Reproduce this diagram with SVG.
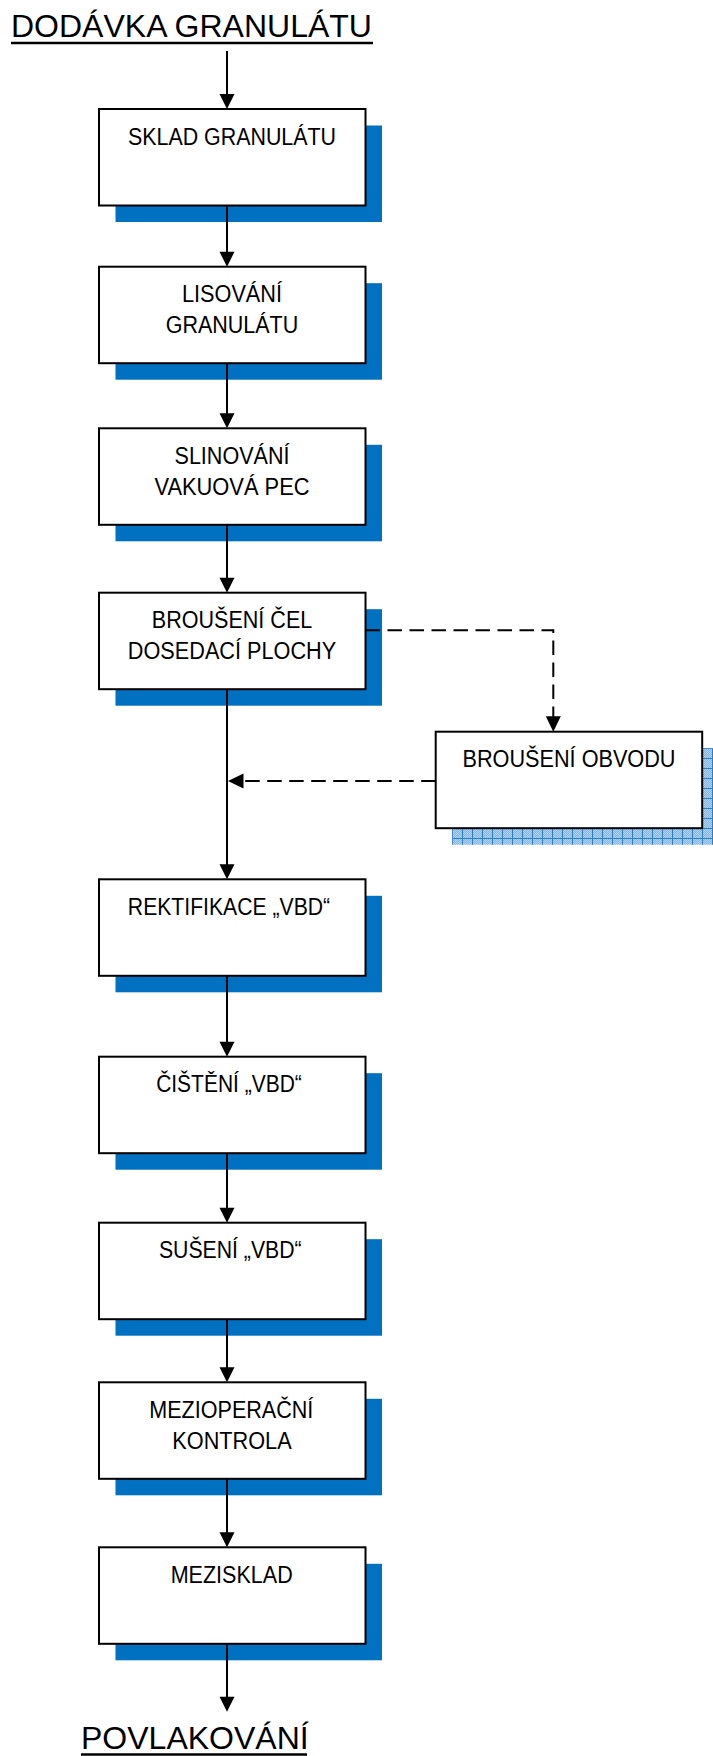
<svg xmlns="http://www.w3.org/2000/svg" width="713" height="1756" viewBox="0 0 713 1756">
  <style>
    .box { fill: #ffffff; stroke: #000000; stroke-width: 2; }
    .shadow { fill: #0070C0; }
    .lbl { font-family: "Liberation Sans", Arial, sans-serif; font-size: 23.5px; fill: #000000; text-anchor: middle; }
    .title { font-family: "Liberation Sans", Arial, sans-serif; font-size: 32px; fill: #000000; }
    .uline { stroke: #000000; stroke-width: 2.4; }
    .flow { fill: none; stroke: #000000; stroke-width: 2; }
    .dash { fill: none; stroke: #000000; stroke-width: 2; stroke-dasharray: 14.5 7.5; }
    .head { fill: #000000; }
  </style>
  <defs>
    <!-- fine dither for the textured shadow -->
    <pattern id="dither" x="0" y="0" width="2" height="2" patternUnits="userSpaceOnUse">
      <rect x="0" y="0" width="2" height="2" fill="#86b6e2"/>
      <rect x="0" y="0" width="1" height="1" fill="#b0d0ef"/>
      <rect x="1" y="1" width="1" height="1" fill="#b0d0ef"/>
    </pattern>
    <!-- grid lines over the dither -->
    <pattern id="grid" x="452" y="748" width="10" height="10" patternUnits="userSpaceOnUse">
      <rect x="0" y="0" width="1" height="10" fill="#2d7cc6"/>
      <rect x="0" y="0" width="10" height="1" fill="#2d7cc6"/>
    </pattern>
  </defs>

  <!-- start and end labels -->
  <g id="start">
    <text class="title" x="11" y="37">DODÁVKA GRANULÁTU</text>
    <line class="uline" x1="11" y1="43" x2="373" y2="43"/>
  </g>
  <g id="end">
    <text class="title" x="81" y="1749">POVLAKOVÁNÍ</text>
    <line class="uline" x1="81" y1="1754.5" x2="307" y2="1754.5"/>
  </g>

  <!-- process steps -->
  <g id="sklad">
    <rect class="shadow" x="115.5" y="125.5" width="266.5" height="96.5"/>
    <rect class="box" x="99" y="109" width="266.5" height="96.5"/>
    <text class="lbl" x="232" y="144.5" textLength="208" lengthAdjust="spacingAndGlyphs">SKLAD GRANULÁTU</text>
  </g>
  <g id="lisovani">
    <rect class="shadow" x="115.5" y="283.2" width="266.5" height="96.5"/>
    <rect class="box" x="99" y="266.7" width="266.5" height="96.5"/>
    <text class="lbl" x="232" y="302" textLength="100" lengthAdjust="spacingAndGlyphs">LISOVÁNÍ</text>
    <text class="lbl" x="232" y="333" textLength="132.5" lengthAdjust="spacingAndGlyphs">GRANULÁTU</text>
  </g>
  <g id="slinovani">
    <rect class="shadow" x="115.5" y="444.8" width="266.5" height="96.5"/>
    <rect class="box" x="99" y="428.3" width="266.5" height="96.5"/>
    <text class="lbl" x="232" y="463.5" textLength="115" lengthAdjust="spacingAndGlyphs">SLINOVÁNÍ</text>
    <text class="lbl" x="232" y="494.5" textLength="155" lengthAdjust="spacingAndGlyphs">VAKUOVÁ PEC</text>
  </g>
  <g id="brouseni-cel">
    <rect class="shadow" x="115.5" y="609.2" width="266.5" height="96.5"/>
    <rect class="box" x="99" y="592.7" width="266.5" height="96.5"/>
    <text class="lbl" x="232" y="628" textLength="160.5" lengthAdjust="spacingAndGlyphs">BROUŠENÍ ČEL</text>
    <text class="lbl" x="232" y="658.5" textLength="208.3" lengthAdjust="spacingAndGlyphs">DOSEDACÍ PLOCHY</text>
  </g>
  <g id="brouseni-obvodu">
    <rect x="452.2" y="748.2" width="266.5" height="96.5" fill="url(#dither)"/>
    <rect x="452.2" y="748.2" width="266.5" height="96.5" fill="url(#grid)"/>
    <rect class="box" x="435.7" y="731.7" width="266.5" height="96.5"/>
    <text class="lbl" x="569" y="767.3" textLength="213" lengthAdjust="spacingAndGlyphs">BROUŠENÍ OBVODU</text>
  </g>
  <g id="rektifikace">
    <rect class="shadow" x="115.5" y="895.8" width="266.5" height="96.5"/>
    <rect class="box" x="99" y="879.3" width="266.5" height="96.5"/>
    <text class="lbl" x="229" y="914.5" textLength="202.3" lengthAdjust="spacingAndGlyphs">REKTIFIKACE „VBD“</text>
  </g>
  <g id="cisteni">
    <rect class="shadow" x="115.5" y="1073.2" width="266.5" height="96.5"/>
    <rect class="box" x="99" y="1056.7" width="266.5" height="96.5"/>
    <text class="lbl" x="229" y="1092" textLength="145.7" lengthAdjust="spacingAndGlyphs">ČIŠTĚNÍ „VBD“</text>
  </g>
  <g id="suseni">
    <rect class="shadow" x="115.5" y="1239.2" width="266.5" height="96.5"/>
    <rect class="box" x="99" y="1222.7" width="266.5" height="96.5"/>
    <text class="lbl" x="230.3" y="1258.3" textLength="142.7" lengthAdjust="spacingAndGlyphs">SUŠENÍ „VBD“</text>
  </g>
  <g id="kontrola">
    <rect class="shadow" x="115.5" y="1398.8" width="266.5" height="96.5"/>
    <rect class="box" x="99" y="1382.3" width="266.5" height="96.5"/>
    <text class="lbl" x="231.3" y="1417.5" textLength="164" lengthAdjust="spacingAndGlyphs">MEZIOPERAČNÍ</text>
    <text class="lbl" x="232" y="1448.5" textLength="119.3" lengthAdjust="spacingAndGlyphs">KONTROLA</text>
  </g>
  <g id="mezisklad">
    <rect class="shadow" x="115.5" y="1563.8" width="266.5" height="96.5"/>
    <rect class="box" x="99" y="1547.3" width="266.5" height="96.5"/>
    <text class="lbl" x="231.7" y="1583" textLength="122" lengthAdjust="spacingAndGlyphs">MEZISKLAD</text>
  </g>

  <!-- connectors -->
  <g id="connectors">
    <line class="flow" x1="227" y1="51" x2="227" y2="95"/>
    <polygon class="head" points="227,109 219.5,94 234.5,94"/>

    <line class="flow" x1="227" y1="205.5" x2="227" y2="252"/>
    <polygon class="head" points="227,266.7 219.5,251.7 234.5,251.7"/>

    <line class="flow" x1="227" y1="363.2" x2="227" y2="414"/>
    <polygon class="head" points="227,428.3 219.5,413.3 234.5,413.3"/>

    <line class="flow" x1="227" y1="524.8" x2="227" y2="578"/>
    <polygon class="head" points="227,592.7 219.5,577.7 234.5,577.7"/>

    <line class="flow" x1="227" y1="689.2" x2="227" y2="865"/>
    <polygon class="head" points="227,879.3 219.5,864.3 234.5,864.3"/>

    <line class="flow" x1="227" y1="975.8" x2="227" y2="1042"/>
    <polygon class="head" points="227,1056.7 219.5,1041.7 234.5,1041.7"/>

    <line class="flow" x1="227" y1="1153.2" x2="227" y2="1208"/>
    <polygon class="head" points="227,1222.7 219.5,1207.7 234.5,1207.7"/>

    <line class="flow" x1="227" y1="1319.2" x2="227" y2="1368"/>
    <polygon class="head" points="227,1382.3 219.5,1367.3 234.5,1367.3"/>

    <line class="flow" x1="227" y1="1478.8" x2="227" y2="1533"/>
    <polygon class="head" points="227,1547.3 219.5,1532.3 234.5,1532.3"/>

    <line class="flow" x1="227" y1="1643.8" x2="227" y2="1697"/>
    <polygon class="head" points="227,1711.7 219.5,1696.7 234.5,1696.7"/>

    <!-- side branch out to the circumference grinding -->
    <path class="dash" d="M365.5,630.3 H553.3 V717"/>
    <polygon class="head" points="553.3,731.7 545.8,716.2 560.8,716.2"/>

    <!-- side branch back into the main line -->
    <path class="dash" d="M435.7,781 H243"/>
    <polygon class="head" points="228,781 243.5,773.5 243.5,788.5"/>
  </g>
</svg>
